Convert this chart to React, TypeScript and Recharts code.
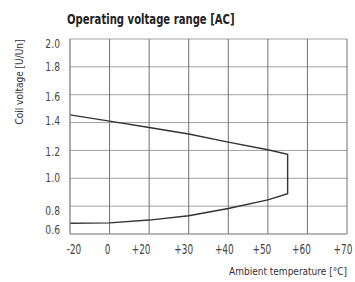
import React from 'react';
import { LineChart, Line, XAxis, YAxis, CartesianGrid } from 'recharts';

const xTickLabels = ['-20', '0', '+20', '+30', '+40', '+50', '+60', '+70'];
const xTickIndex = [0, 1, 2, 3, 4, 5, 6, 7];
const yTicks = [0.6, 0.8, 1.0, 1.2, 1.4, 1.6, 1.8, 2.0];

// positions on the (evenly spaced) temperature axis, as tick index
const upperX = [0, 1, 2, 3, 4, 5, 5.5];
const upperV = [1.455, 1.41, 1.365, 1.318, 1.26, 1.205, 1.172];
const lowerX = [5.5, 5, 4, 3, 2, 1, 0];
const lowerV = [0.889, 0.845, 0.783, 0.731, 0.7, 0.68, 0.677];

const pathData = [
  ...upperX.map((x, i) => ({ x, v: upperV[i] })),
  ...lowerX.map((x, i) => ({ x, v: lowerV[i] })),
];

// label nudges (pixels) to mimic the scanned layout
const xTickNudge = [4, -2, -8, -5, -4, -6, -6, -4];
const yTickNudge: Record<string, number> = {
  '0.6': -4, '0.8': 5, '1.0': 0, '1.2': 1, '1.4': -1.5, '1.6': 2.5, '1.8': 0, '2.0': 4.5,
};

const FONT = '"DejaVu Sans", sans-serif';
const FONT_C = '"DejaVu Sans Condensed", "DejaVu Sans", sans-serif';

const YTick = (props: any) => {
  const { y, payload } = props;
  const key = payload.value.toFixed(1);
  const dy = (yTickNudge[key] ?? 0) + 4.2;
  return (
    <g transform={`translate(60,${y + dy}) scale(0.8,1)`}>
      <text x={0} y={0} textAnchor="end" fontSize={11.5} fontFamily={FONT} fill="#444">
        {key}
      </text>
    </g>
  );
};

const XTick = (props: any) => {
  const { x, payload } = props;
  const i = payload.value as number;
  return (
    <g transform={`translate(${x + xTickNudge[i]},254) scale(0.66,1)`}>
      <text x={0} y={0} textAnchor="middle" fontSize={13.5} fontFamily={FONT} fill="#444">
        {xTickLabels[i]}
      </text>
    </g>
  );
};

export default function App() {
  return (
    <div style={{ position: 'absolute', left: 0, top: 0, width: 355, height: 282, background: '#fff' }}>
      <div
        style={{
          position: 'absolute', left: 67, top: 10, fontFamily: FONT, fontWeight: 'bold',
          fontSize: 14, color: '#222', whiteSpace: 'nowrap', lineHeight: '18px',
          transform: 'scaleX(0.72)', transformOrigin: '0 0',
        }}
      >
        Operating voltage range [AC]
      </div>
      <div style={{ position: 'absolute', left: 20, top: 82, width: 0, height: 0 }}>
        <div
          style={{
            position: 'absolute', transform: 'translate(-50%, -50%) rotate(-90deg)',
            fontFamily: FONT_C, fontSize: 10, color: '#333', whiteSpace: 'nowrap', lineHeight: '12px',
          }}
        >
          Coil voltage [U/Un]
        </div>
      </div>
      <div
        style={{
          position: 'absolute', right: 8, top: 265, fontFamily: FONT_C, fontSize: 10,
          color: '#333', whiteSpace: 'nowrap', lineHeight: '13px',
        }}
      >
        Ambient temperature [°C]
      </div>
      <LineChart width={355} height={282} data={pathData} margin={{ top: 39, right: 8, bottom: 18, left: 0 }}>
        <CartesianGrid horizontal={true} vertical={false} stroke="#a0a0a0" strokeWidth={1} />
        <CartesianGrid horizontal={false} vertical={true} stroke="#707070" strokeWidth={1} />
        <XAxis
          dataKey="x"
          type="number"
          domain={[0, 7]}
          ticks={xTickIndex}
          height={30}
          tickLine={false}
          axisLine={{ stroke: '#a0a0a0' }}
          tick={<XTick />}
          interval={0}
          allowDuplicatedCategory={true}
        />
        <YAxis
          type="number"
          domain={[0.6, 2.0]}
          ticks={yTicks}
          width={70}
          tickLine={false}
          axisLine={{ stroke: '#a0a0a0' }}
          tick={<YTick />}
          interval={0}
        />
        <Line
          dataKey="v"
          type="linear"
          stroke="#333"
          strokeWidth={1.4}
          dot={false}
          isAnimationActive={false}
        />
      </LineChart>
    </div>
  );
}
